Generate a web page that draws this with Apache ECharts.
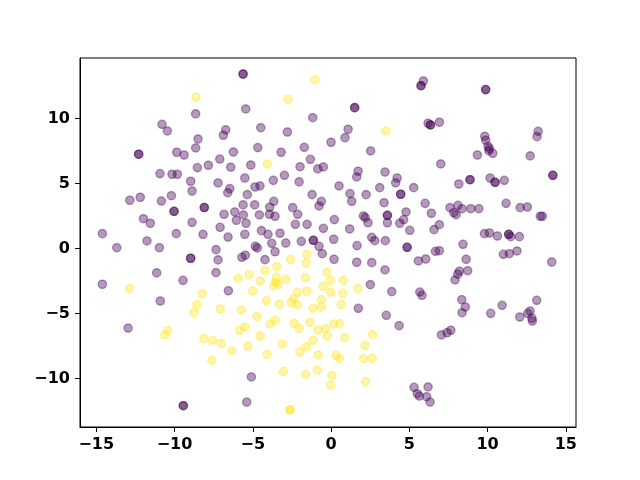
<!DOCTYPE html>
<html>
<head>
<meta charset="utf-8">
<script src="https://cdn.jsdelivr.net/npm/echarts@6/dist/echarts.min.js"></script>
<style>
  html, body { margin: 0; padding: 0; background: #fff; }
  #main { width: 640px; height: 480px; }
</style>
</head>
<body>
<div id="main"></div>
<script>
// class 0 (purple) points
var purplePts = [
  [-8.65,10.35],[-10.8,9.55],[-10.46,9.04],[-8.5,8.42],[-8.65,7.73],[-12.29,7.25],[-12.29,7.25],
  [-9.86,7.4],[-9.39,7.19],[-8.54,6.22],[-7.84,6.4],[-10.93,5.76],[-10.16,5.71],[-9.82,5.71],[-8.97,5.17],
  [-5.62,13.42],[-5.62,13.42],[-5.45,10.73],[-1.17,10.06],[-6.73,9.12],[-6.88,8.71],[-4.49,9.29],
  [-2.79,8.96],[0.0,8.17],[-6.24,7.42],[-4.68,7.76],[-3.19,7.4],[-1.71,7.78],[-7.11,6.88],[-6.41,6.25],
  [-5.13,6.42],[-1.32,6.86],[-1.98,6.29],[-0.85,6.12],[-0.49,6.27],[-5.51,5.42],[-2.98,5.63],
  [-3.69,5.24],[-7.22,5.04],[-2.04,5.12],
  [5.9,12.88],[5.75,12.52],[5.75,12.52],[1.51,10.83],[1.51,10.83],[6.2,9.63],[6.35,9.5],[6.35,9.5],
  [6.92,9.71],[1.09,9.17],[0.89,8.52],[2.53,7.5],[7.01,6.5],[1.73,5.94],[1.64,5.5],[3.45,5.88],
  [4.22,5.42],[4.13,5.05],
  [9.88,12.22],[9.88,12.22],[13.23,9.01],[13.16,8.6],[9.82,8.63],[9.88,8.32],[10.03,7.86],[10.12,7.68],
  [10.08,7.52],[10.33,7.32],[9.35,7.19],[12.72,7.12],[14.17,5.63],[14.17,5.63],[8.16,4.96],
  [8.88,5.29],[8.88,5.29],[10.16,5.42],[10.48,5.09],[10.48,5.09],[11.07,5.24],
  [-8.88,4.42],[-12.86,3.71],[-12.19,3.94],[-10.84,3.65],[-10.2,4.06],[-10.03,2.86],[-10.03,2.86],
  [-8.1,3.15],[-8.1,3.15],[-11.99,2.29],[-11.55,1.94],[-8.88,2.01],[-14.61,1.14],[-9.89,1.14],
  [-8.18,1.09],[-13.69,0.06],[-11.76,0.58],[-10.97,0.06],[-8.97,-0.75],[-8.97,-0.75],[-11.14,-1.88],
  [-9.46,-2.45],[-14.61,-2.75],[-10.91,-4.04],
  [-6.47,4.6],[-6.6,4.29],[-4.86,4.73],[-4.54,4.81],[-5.35,4.14],[-3.66,3.63],[-5.62,3.35],[-4.88,3.35],
  [-3.92,3.17],[-2.45,3.14],[-1.21,4.14],[-0.62,3.63],[-0.77,3.27],[-6.84,2.63],[-6.15,2.81],
  [-6.05,2.17],[-5.6,2.58],[-5.43,1.94],[-4.58,2.58],[-3.94,2.63],[-3.58,2.48],[-2.13,2.63],
  [-7.09,1.63],[-6.58,0.88],[-5.51,1.09],[-4.45,1.37],[-4.03,1.09],[-3.26,1.17],[-3.79,0.4],
  [-2.89,0.42],[-2.28,1.86],[-1.9,0.55],[-1.53,1.86],[-1.13,0.63],[-1.13,0.63],[-0.49,1.55],
  [-0.77,0.17],[-0.56,-0.4],[-7.35,-0.09],[-7.22,-0.88],[-4.84,0.17],[-4.71,0.04],[-5.48,-0.52],
  [-5.7,-0.68],[-3.58,-0.25],[-4.22,-0.86],[-7.35,-1.86],[-6.56,-3.25],
  [0.51,4.81],[3.11,4.68],[5.28,4.68],[4.45,4.17],[4.45,4.17],[1.21,4.22],[2.24,4.14],[1.32,3.63],
  [3.39,3.52],[6.01,3.47],[7.6,3.14],[0.21,2.22],[2.07,2.5],[2.19,2.37],[2.36,1.98],[3.6,2.55],
  [3.6,2.55],[3.6,1.98],[4.79,2.81],[4.64,2.22],[4.39,1.94],[6.41,2.71],[6.92,1.83],[6.58,1.45],
  [1.19,1.5],[5.03,1.4],[0.17,0.71],[1.66,0.22],[2.6,0.86],[2.79,0.6],[3.47,0.6],[4.86,0.09],
  [4.86,0.09],[6.67,-0.22],[6.92,-0.17],[0.19,-0.83],[1.64,-1.06],[2.6,-1.09],[3.45,-1.65],
  [5.58,-0.96],[6.05,-0.81],[7.92,-2.42],[2.51,-2.78],[3.88,-3.32],[5.67,-3.35],[5.81,-3.6],[1.74,-4.6],
  [11.18,3.47],[12.08,3.14],[12.54,3.19],[13.37,2.48],[13.5,2.48],[8.11,3.32],[7.84,2.75],[7.99,2.6],
  [8.37,3.06],[8.93,3.06],[9.44,3.06],[9.8,1.14],[10.12,1.19],[10.63,0.96],[11.35,1.09],[11.35,1.09],
  [11.48,0.91],[12.03,0.91],[8.43,0.32],[11.01,-0.45],[11.39,-0.4],[11.88,-0.19],[14.1,-1.04],
  [8.63,-0.83],[8.73,-1.71],[8.2,-1.75],[8.09,-1.98],[8.35,-3.94],[8.58,-4.5],[10.93,-4.37],[13.14,-3.99],
  [8.37,-4.94],[7.65,-6.29],[10.2,-4.99],[12.06,-5.27],[12.57,-4.99],[12.72,-4.81],[12.84,-5.37],[12.86,-5.58],
  [3.53,-5.14],[4.35,-5.94],[7.05,-6.65],[7.41,-6.48],[5.3,-10.68],[6.2,-10.65],[5.51,-11.17],
  [5.64,-11.35],[6.11,-11.4],[6.33,-11.81],
  [-5.09,-9.88],[-5.39,-11.81],[-12.97,-6.12],[-9.44,-12.09],[-9.44,-12.09]
];

// class 1 (yellow) points
var yellowPts = [
  [-8.63,11.63],[-1.04,12.96],[-2.75,11.47],[-4.07,6.5],[3.51,9.04],
  [-12.86,-3.09],[-8.24,-3.5],[-8.58,-4.32],
  [-1.55,-0.45],[-2.58,-0.83],[-1.58,-1.14],[-3.47,-1.4],[-4.22,-1.71],[-5.22,-2.02],[-5.94,-2.29],
  [-4.52,-2.52],[-3.49,-2.22],[-3.53,-2.6],[-3.66,-2.88],[-3.39,-2.75],[-2.88,-2.37],[-1.64,-2.24],
  [-0.25,-1.83],[-5.0,-3.27],[-4.13,-4.01],[-3.3,-4.29],[-2.15,-3.37],[-2.38,-3.86],[-2.54,-4.17],
  [-1.55,-3.29],[-0.51,-2.91],[-0.62,-3.94],[-1.15,-4.6],[-0.62,-4.5],
  [-0.04,-2.48],[0.79,-2.45],[-0.02,-3.37],[0.75,-3.45],[1.71,-3.09],[0.64,-4.29],
  [-7.07,-4.65],[-5.73,-4.75],[-2.15,-4.35],[-4.73,-5.24],[-3.58,-5.53],[-3.9,-5.81],[-5.5,-6.04],
  [-5.84,-6.29],[-8.12,-6.94],[-7.56,-7.06],[-7.01,-7.32],[-6.33,-7.86],[-7.62,-8.6],[-5.32,-7.52],
  [-4.52,-6.73],[-4.09,-8.14],[-3.11,-7.35],[-2.36,-5.76],[-2.04,-6.14],[-1.34,-5.68],[-0.83,-6.27],
  [-0.34,-6.17],[-0.24,-6.73],[-1.15,-7.06],[-1.58,-7.55],[-2.0,-7.96],[-0.81,-8.19],[-3.05,-9.45],
  [-1.62,-9.68],[-0.88,-9.35],[-2.62,-12.42],[-2.62,-12.42],
  [0.17,-5.81],[0.55,-5.78],[0.89,-6.86],[2.66,-6.63],[2.17,-7.45],[0.32,-8.22],[0.53,-8.47],
  [2.07,-8.47],[2.64,-8.45],[0.06,-9.76],[-0.02,-10.53],[2.21,-10.24],
  [-8.75,-4.94],[-10.44,-6.32],[-10.63,-6.65]
];

var xTicks = [-15, -10, -5, 0, 5, 10, 15];
var yTicks = [-10, -5, 0, 5, 10];

var myChart = echarts.init(document.getElementById('main'));

function fmt(v) {
  return v < 0 ? '\u2212' + Math.abs(v) : String(v);
}

var labelStyle = {
  color: '#000',
  fontFamily: 'DejaVu Sans',
  fontWeight: 'bold',
  fontSize: 16,
  formatter: fmt
};

var option = {
  animation: false,
  backgroundColor: '#fff',
  grid: {
    left: 80, right: 64, top: 58, bottom: 53,
    show: true, borderColor: '#000', borderWidth: 1,
    outerBoundsMode: 'none'
  },
  xAxis: {
    type: 'value',
    min: -16.04, max: 15.65,
    axisLine: { show: true, onZero: false, lineStyle: { color: '#000', width: 1 } },
    axisTick: { show: true, inside: false, length: 5, customValues: xTicks, lineStyle: { color: '#000' } },
    axisLabel: Object.assign({ margin: 10, customValues: xTicks }, labelStyle),
    splitLine: { show: false }
  },
  yAxis: {
    type: 'value',
    min: -13.73, max: 14.65,
    axisLine: { show: true, onZero: false, lineStyle: { color: '#000', width: 1 } },
    axisTick: { show: true, inside: false, length: 5, customValues: yTicks, lineStyle: { color: '#000' } },
    axisLabel: Object.assign({ margin: 10, customValues: yTicks }, labelStyle),
    splitLine: { show: false }
  },
  series: [
    {
      type: 'scatter',
      data: purplePts,
      symbolSize: 8.3,
      itemStyle: {
        color: 'rgba(68,1,84,0.4)',
        borderColor: 'rgba(68,1,84,0.4)',
        borderWidth: 1.3,
        opacity: 1
      }
    },
    {
      type: 'scatter',
      data: yellowPts,
      symbolSize: 8.3,
      itemStyle: {
        color: 'rgba(253,231,37,0.4)',
        borderColor: 'rgba(253,231,37,0.4)',
        borderWidth: 1.3,
        opacity: 1
      }
    }
  ]
};

myChart.setOption(option);
</script>
</body>
</html>
